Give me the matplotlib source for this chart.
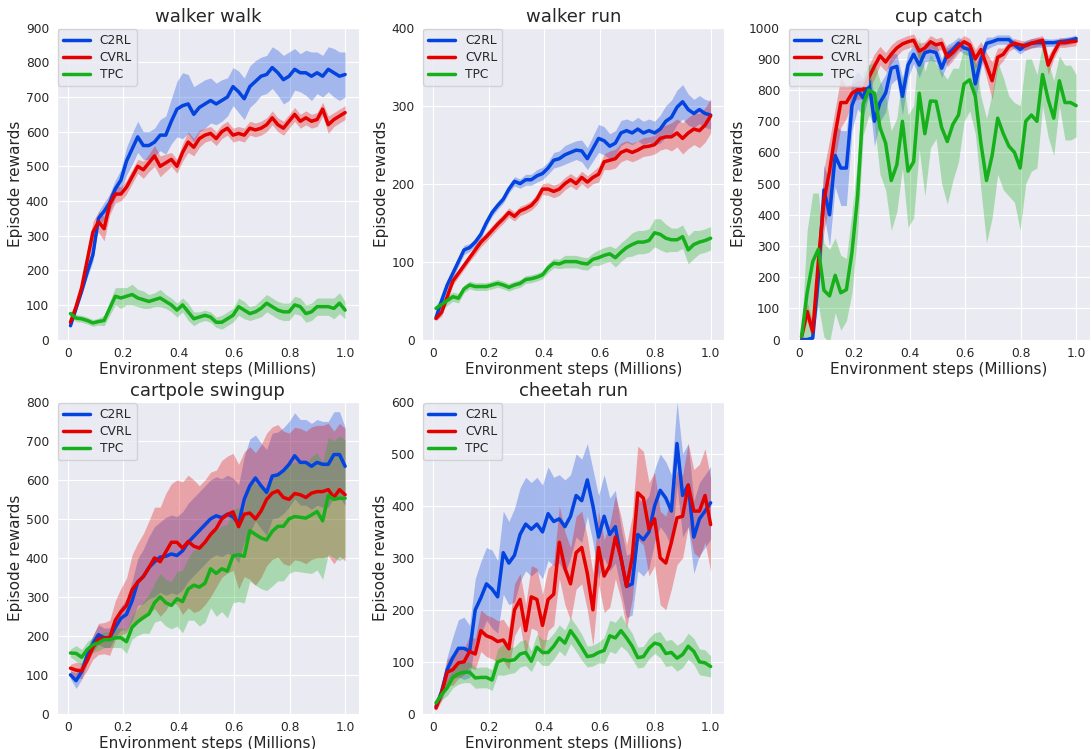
import numpy as np
import matplotlib
matplotlib.use('Agg')
import matplotlib.pyplot as plt
import seaborn as sns

sns.set_style('darkgrid')
plt.rcParams['font.family'] = ['DejaVu Sans']

steps = np.linspace(0.01, 1.0, 50)
methods = ['C2RL', 'CVRL', 'TPC']
colors = ['#0343df', '#e50000', '#15b01a']

# walker walk
ww_c2rl = [40, 90, 140, 195, 245, 350, 370, 395, 435, 460, 515, 550, 585, 560, 560, 570, 590, 590, 630, 665,
           675, 680, 650, 670, 680, 690, 680, 690, 700, 730, 715, 695, 730, 745, 760, 765, 785, 770, 750, 760,
           780, 770, 770, 760, 770, 760, 780, 770, 760, 765]
ww_c2rl_sd = [5, 8, 10, 15, 20, 20, 25, 25, 25, 30, 40, 45, 45, 40, 40, 40, 45, 55, 65, 80, 95, 85, 80, 70, 70,
              65, 60, 60, 55, 55, 60, 60, 60, 60, 55, 55, 60, 65, 70, 70, 60, 55, 65, 70, 60, 60, 65, 70, 70, 65]
ww_cvrl = [50, 95, 150, 230, 310, 340, 320, 390, 420, 420, 440, 470, 500, 490, 510, 530, 500, 510, 520, 500,
           540, 570, 555, 580, 590, 595, 580, 600, 610, 590, 595, 590, 610, 605, 610, 620, 640, 620, 610, 630,
           650, 630, 640, 630, 635, 665, 620, 635, 645, 655]
ww_cvrl_sd = [8, 10, 15, 20, 30, 30, 35, 30, 25, 20, 20, 20, 20, 25, 25, 30, 30, 25, 20, 20, 25, 30, 25, 25, 20,
              20, 20, 20, 20, 20, 20, 20, 20, 20, 20, 20, 20, 20, 20, 20, 20, 20, 20, 20, 20, 20, 25, 20, 20, 20]
ww_tpc = [75, 62, 60, 55, 48, 52, 55, 90, 125, 120, 125, 130, 120, 115, 110, 115, 120, 110, 100, 85,
          100, 80, 60, 65, 70, 65, 50, 50, 60, 70, 95, 85, 75, 80, 90, 105, 95, 85, 80, 80,
          100, 95, 75, 80, 95, 95, 95, 90, 105, 85]
ww_tpc_sd = [8, 10, 10, 10, 10, 10, 15, 20, 25, 30, 25, 30, 25, 25, 20, 20, 25, 20, 20, 20, 20, 25, 20, 15, 15,
             15, 15, 20, 20, 20, 25, 25, 20, 20, 25, 25, 25, 25, 25, 25, 25, 25, 25, 25, 25, 25, 25, 30, 30, 25]

# walker run
wr_c2rl = [28, 50, 70, 85, 100, 115, 118, 125, 135, 150, 163, 172, 180, 193, 203, 200, 205, 205, 210, 213,
           220, 230, 232, 237, 240, 243, 242, 232, 245, 258, 255, 248, 252, 265, 268, 265, 270, 265, 268, 265,
           270, 280, 285, 298, 305, 295, 290, 295, 290, 288]
wr_c2rl_sd = [3, 5, 6, 6, 6, 6, 5, 5, 5, 5, 5, 5, 5, 5, 6, 6, 7, 7, 8, 8, 8, 10, 10, 12, 12,
              12, 14, 14, 16, 18, 18, 16, 16, 16, 15, 15, 15, 15, 15, 15, 18, 20, 22, 22, 22, 20, 18, 18, 18, 18]
wr_cvrl = [27, 35, 55, 75, 85, 95, 105, 115, 125, 132, 140, 148, 155, 163, 158, 165, 168, 172, 180, 193,
           193, 190, 193, 200, 205, 200, 208, 202, 208, 212, 228, 230, 232, 240, 243, 240, 243, 247, 248, 250,
           258, 260, 260, 265, 258, 265, 270, 268, 275, 287]
wr_cvrl_sd = [3, 5, 5, 5, 5, 5, 5, 6, 6, 6, 6, 6, 6, 6, 6, 6, 6, 6, 7, 7, 8, 8, 8, 8, 8,
              8, 8, 8, 8, 10, 10, 12, 12, 12, 12, 12, 12, 12, 12, 12, 15, 15, 18, 18, 20, 20, 20, 22, 22, 22]
wr_tpc = [40, 45, 50, 55, 53, 65, 70, 68, 68, 68, 70, 72, 70, 67, 70, 72, 77, 78, 80, 83,
          92, 98, 97, 100, 100, 100, 98, 97, 103, 105, 108, 110, 105, 112, 118, 122, 125, 125, 127, 137,
          135, 130, 128, 128, 132, 115, 122, 125, 127, 130]
wr_tpc_sd = [5, 8, 6, 6, 6, 5, 5, 5, 5, 5, 5, 5, 5, 5, 5, 5, 5, 5, 5, 5, 6, 6, 6, 8, 8,
             8, 8, 8, 8, 10, 10, 10, 12, 12, 12, 15, 15, 15, 15, 18, 20, 18, 15, 15, 15, 18, 18, 15, 15, 15]

# cup catch
cc_c2rl = [0, 0, 5, 200, 480, 400, 590, 550, 550, 750, 800, 775, 830, 700, 760, 790, 870, 876, 780, 880,
           915, 880, 920, 925, 920, 870, 915, 930, 950, 935, 930, 820, 898, 950, 955, 962, 962, 962, 945, 930,
           945, 950, 952, 952, 952, 952, 955, 957, 960, 965]
cc_c2rl_sd = [5, 5, 10, 60, 80, 100, 100, 120, 120, 80, 60, 60, 50, 80, 60, 60, 50, 40, 60, 40, 30, 40, 30, 30, 30,
              30, 30, 25, 20, 20, 20, 60, 30, 20, 15, 15, 15, 15, 15, 15, 15, 15, 15, 15, 12, 12, 12, 12, 12, 12]
cc_cvrl = [8, 90, 25, 250, 447, 540, 660, 760, 760, 790, 801, 801, 840, 876, 910, 890, 915, 935, 948, 955,
           960, 925, 935, 955, 945, 950, 905, 920, 940, 955, 945, 900, 930, 880, 830, 905, 915, 940, 950, 945,
           942, 950, 955, 960, 880, 920, 952, 952, 955, 957]
cc_cvrl_sd = [10, 30, 30, 80, 100, 100, 80, 80, 50, 30, 30, 30, 40, 40, 30, 30, 30, 25, 20, 20, 20, 25, 20, 20, 20,
              20, 30, 25, 20, 20, 20, 30, 25, 40, 60, 30, 20, 15, 15, 15, 15, 15, 15, 15, 30, 20, 15, 15, 15, 15]
cc_tpc = [10, 150, 250, 290, 158, 140, 206, 150, 160, 280, 460, 755, 800, 790, 680, 630, 510, 560, 700, 540,
          570, 790, 660, 765, 764, 680, 635, 690, 720, 820, 833, 780, 630, 510, 590, 710, 660, 620, 600, 550,
          700, 720, 700, 850, 770, 710, 830, 760, 760, 750]
cc_tpc_sd = [20, 200, 220, 180, 150, 150, 120, 120, 100, 130, 120, 100, 80, 100, 150, 150, 160, 150, 150, 180,
             180, 180, 200, 150, 120, 180, 200, 180, 150, 120, 100, 120, 150, 200, 200, 180, 180, 160, 160, 200,
             200, 180, 150, 100, 120, 120, 80, 120, 120, 100]

# cartpole swingup
cs_c2rl = [100, 85, 108, 150, 180, 203, 195, 195, 222, 245, 255, 290, 338, 352, 375, 390, 402, 404, 410, 406,
           418, 440, 455, 470, 485, 500, 508, 503, 512, 505, 488, 550, 585, 605, 585, 568, 610, 613, 624, 640,
           662, 645, 645, 635, 645, 640, 640, 665, 665, 635]
cs_c2rl_sd = [10, 20, 20, 20, 20, 25, 25, 25, 25, 30, 40, 50, 60, 70, 80, 90, 90, 100, 100, 100, 100, 100, 100, 100,
              100, 100, 100, 100, 100, 100, 100, 110, 120, 110, 110, 110, 110, 110, 110, 110, 110, 110, 110, 110,
              110, 110, 110, 110, 110, 100]
cs_cvrl = [117, 112, 110, 137, 170, 192, 194, 195, 240, 262, 278, 318, 338, 352, 375, 400, 390, 415, 440, 440,
           425, 442, 430, 425, 440, 460, 475, 500, 511, 518, 480, 512, 515, 500, 520, 550, 566, 572, 555, 550,
           565, 562, 555, 566, 570, 570, 575, 555, 575, 562]
cs_cvrl_sd = [10, 20, 20, 25, 30, 40, 40, 45, 50, 60, 70, 90, 100, 110, 120, 130, 140, 150, 150, 160, 170, 170, 170,
              160, 160, 160, 150, 150, 150, 150, 160, 160, 170, 170, 170, 170, 170, 170, 170, 170, 170, 170, 170,
              170, 170, 170, 170, 170, 170, 170]
cs_tpc = [156, 155, 145, 165, 177, 182, 190, 190, 195, 195, 185, 222, 236, 247, 256, 285, 300, 285, 278, 295,
          288, 320, 330, 325, 335, 372, 360, 372, 366, 405, 408, 404, 470, 460, 451, 446, 468, 481, 481, 500,
          506, 504, 502, 510, 519, 495, 560, 550, 553, 553]
cs_tpc_sd = [10, 20, 20, 20, 20, 20, 20, 20, 25, 25, 30, 30, 35, 40, 50, 50, 60, 60, 60, 70, 80, 80, 90, 100, 100,
             100, 110, 110, 120, 120, 120, 120, 130, 130, 130, 130, 140, 140, 140, 140, 140, 140, 140, 150, 150,
             150, 150, 150, 160, 150]

# cheetah run
cr_c2rl = [14, 43, 85, 108, 126, 126, 120, 200, 223, 250, 240, 225, 310, 290, 305, 345, 365, 355, 365, 350,
           385, 370, 375, 360, 380, 420, 410, 450, 400, 340, 380, 345, 360, 300, 245, 250, 345, 335, 350, 400,
           430, 415, 390, 520, 420, 440, 340, 375, 390, 406]
cr_c2rl_sd = [5, 15, 25, 40, 55, 60, 50, 60, 70, 70, 75, 70, 80, 80, 90, 90, 90, 90, 90, 90, 90, 85, 85, 90, 80,
              80, 80, 70, 70, 80, 80, 70, 70, 60, 60, 60, 70, 70, 70, 70, 70, 70, 70, 80, 80, 80, 70, 70, 70, 70]
cr_cvrl = [11, 40, 80, 85, 98, 100, 120, 115, 160, 150, 146, 139, 142, 125, 200, 220, 160, 225, 220, 170,
           220, 230, 330, 280, 250, 310, 320, 270, 200, 320, 265, 285, 340, 300, 245, 300, 425, 415, 355, 375,
           300, 290, 330, 377, 380, 440, 390, 390, 420, 364]
cr_cvrl_sd = [5, 15, 25, 30, 30, 25, 30, 30, 40, 40, 40, 40, 40, 40, 50, 50, 50, 60, 60, 60, 60, 60, 70, 70, 70,
              70, 70, 70, 70, 70, 70, 80, 80, 80, 80, 80, 90, 90, 90, 90, 90, 90, 90, 90, 80, 80, 80, 90, 90, 90]
cr_tpc = [21, 37, 50, 70, 77, 80, 80, 69, 70, 70, 65, 100, 104, 102, 104, 115, 118, 101, 128, 118,
          118, 130, 146, 136, 160, 145, 128, 110, 112, 118, 122, 150, 146, 160, 146, 130, 108, 110, 126, 136,
          133, 116, 118, 107, 114, 130, 120, 100, 98, 91]
cr_tpc_sd = [5, 10, 15, 20, 20, 20, 20, 20, 20, 20, 20, 25, 30, 25, 25, 25, 25, 20, 25, 25, 25, 25, 25, 25, 25,
             25, 25, 20, 20, 20, 25, 30, 30, 30, 25, 25, 20, 20, 20, 20, 25, 25, 25, 25, 25, 25, 25, 25, 25, 20]

tasks = [
    ('walker walk', [ww_c2rl, ww_cvrl, ww_tpc], [ww_c2rl_sd, ww_cvrl_sd, ww_tpc_sd], 900),
    ('walker run', [wr_c2rl, wr_cvrl, wr_tpc], [wr_c2rl_sd, wr_cvrl_sd, wr_tpc_sd], 400),
    ('cup catch', [cc_c2rl, cc_cvrl, cc_tpc], [cc_c2rl_sd, cc_cvrl_sd, cc_tpc_sd], 1000),
    ('cartpole swingup', [cs_c2rl, cs_cvrl, cs_tpc], [cs_c2rl_sd, cs_cvrl_sd, cs_tpc_sd], 800),
    ('cheetah run', [cr_c2rl, cr_cvrl, cr_tpc], [cr_c2rl_sd, cr_cvrl_sd, cr_tpc_sd], 600),
]

fig, axes = plt.subplots(2, 3, figsize=(10.91, 7.49), dpi=100)
fig.subplots_adjust(left=0.052, right=0.999, top=0.963, bottom=0.047, wspace=0.21, hspace=0.2)

for ax, (title, means, sds, ymax) in zip(axes.flat, tasks):
    for name, m, s, c in zip(methods, means, sds, colors):
        m = np.array(m, dtype=float)
        s = np.array(s, dtype=float)
        ax.fill_between(steps, m - s, m + s, color=c, alpha=0.3, lw=0)
        ax.plot(steps, m, color=c, lw=2.5, label=name)
    ax.set_ylim(0, ymax)
    ax.set_yticks(np.arange(0, ymax + 1, 100))
    ax.set_xticks([0, 0.2, 0.4, 0.6, 0.8, 1.0])
    ax.set_xticklabels(['0', '0.2', '0.4', '0.6', '0.8', '1.0'])
    ax.tick_params(labelsize=8.8, pad=2)
    ax.set_title(title, fontsize=13, pad=4)
    ax.set_xlabel('Environment steps (Millions)', fontsize=11, labelpad=1)
    ax.set_ylabel('Episode rewards', fontsize=11, labelpad=2)
    ax.legend(loc='upper left', fontsize=8.8, framealpha=0.8, borderaxespad=0.1,
              labelspacing=0.33, handlelength=2.2, handletextpad=0.8)

axes[1, 2].axis('off')

plt.savefig('out.png')
